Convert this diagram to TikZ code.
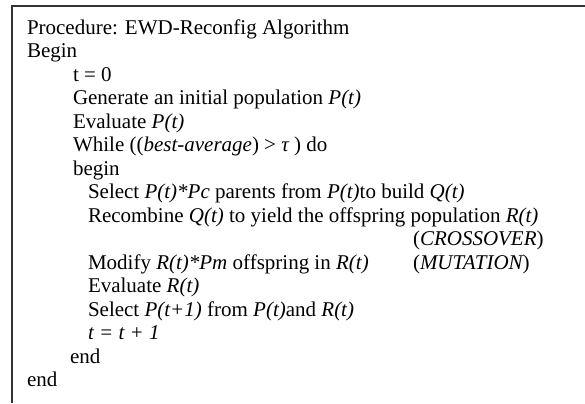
\documentclass[tikz,border=0pt]{standalone}
\usepackage{fontspec}
\setmainfont{Liberation Serif}
\begin{document}
\begin{tikzpicture}[
        x=1bp, y=-1bp,
        font=\fontsize{21bp}{23.5bp}\selectfont
    ]
    \tikzset{
        algline/.style = {anchor=base west, inner sep=0pt, outer sep=0pt},
        frameline/.style = {draw=black!80, line width=1.2bp},
    }
    \useasboundingbox (0,0) rectangle (585,403);
    % frame: top and left edge only
    \draw[frameline] (585,6) -- (12,6) -- (12,403);
    % algorithm text, one node per line
    \node[algline] (proc)    at (27,34)    {Procedure: EWD-Reconfig Algorithm};
    \node[algline] (Begin)   at (27,57.5)  {Begin};
    \node[algline] (init)    at (73,81)    {t = 0};
    \node[algline] (gen)     at (73,104.5) {Generate an initial population {\itshape P(t)}};
    \node[algline] (evalP)   at (73,128)   {Evaluate {\itshape P(t)}};
    \node[algline] (while)   at (73,151.5) {While (({\itshape best-average}) > {\itshape τ} ) do};
    \node[algline] (begin)   at (73,175)   {begin};
    \node[algline] (select)  at (88,198.5) {Select {\itshape P(t)*Pc} parents from {\itshape P(t)}to build {\itshape Q(t)}};
    \node[algline] (recomb)  at (88,222)   {Recombine {\itshape Q(t)} to yield the offspring population {\itshape R(t)}};
    \node[algline] (cross)   at (413,245.5){({\itshape CROSSOVER})};
    \node[algline] (modify)  at (88,269)   {Modify {\itshape R(t)*Pm} offspring in {\itshape R(t)}};
    \node[algline] (mut)     at (413,269)  {({\itshape MUTATION})};
    \node[algline] (evalR)   at (88,292.5) {Evaluate {\itshape R(t)}};
    \node[algline] (next)    at (88,316)   {Select {\itshape P(t+1)} from {\itshape P(t)}and {\itshape R(t)}};
    \node[algline] (incr)    at (88,339.5) {{\itshape t = t + 1}};
    \node[algline] (end)     at (70,363)   {end};
    \node[algline] (End)     at (27,386.5) {end};
\end{tikzpicture}
\end{document}
